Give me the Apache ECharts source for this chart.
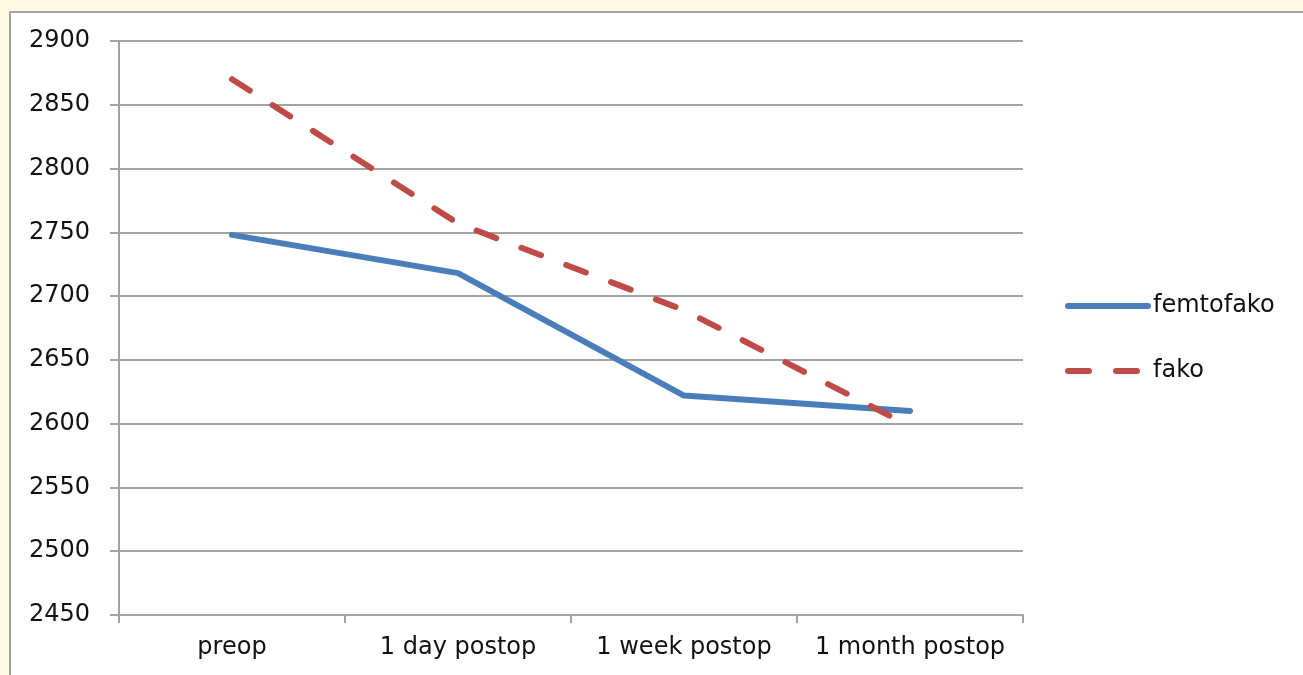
<!DOCTYPE html>
<html>
<head>
<meta charset="utf-8">
<script src="https://cdn.jsdelivr.net/npm/echarts@6/dist/echarts.min.js"></script>
<style>
  html, body { margin: 0; padding: 0; width: 1303px; height: 675px; overflow: hidden; background: #fff9e3; }
  .frame {
    position: absolute; left: 9px; top: 11px; width: 1310px; height: 680px;
    background: #fff; border-left: 2px solid #a3a3a3; border-top: 2px solid #a3a3a3;
  }
  #chart { position: absolute; left: 0; top: 0; width: 1303px; height: 675px; }
</style>
</head>
<body>
<div class="frame"></div>
<div id="chart"></div>
<script>
var categories = ['preop', '1 day postop', '1 week postop', '1 month postop'];
var femtofako = [2748, 2718, 2622, 2610];
var fako = [2870, 2757, 2689, 2598];
var yMin = 2450, yMax = 2900, yStep = 50;

var font = 'DejaVu Sans';
var gray = '#a3a3a3';
var label_size = 24;

var myChart = echarts.init(document.getElementById('chart'));
myChart.setOption({
  animation: false,
  textStyle: { fontFamily: font },
  grid: { left: 119, top: 41, right: 280, bottom: 60 },
  legend: {
    orient: 'vertical',
    left: 1060,
    top: 289,
    itemWidth: 80,
    itemHeight: 14,
    itemGap: 41,
    itemStyle: { opacity: 0 },
    lineStyle: { width: 6, cap: 'round' },
    textStyle: { fontFamily: font, fontSize: label_size, color: '#111', padding: [0, 0, 0, 0] },
    data: ['femtofako', 'fako']
  },
  xAxis: {
    type: 'category',
    data: categories,
    boundaryGap: true,
    axisLine: { lineStyle: { color: gray, width: 2 } },
    axisTick: { show: true, length: 8, lineStyle: { color: gray, width: 2 } },
    axisLabel: { fontSize: label_size, color: '#111', margin: 21, interval: 0 }
  },
  yAxis: {
    type: 'value',
    min: yMin,
    max: yMax,
    interval: yStep,
    axisLine: { show: true, lineStyle: { color: gray, width: 2 } },
    axisTick: { show: true, length: 9, lineStyle: { color: gray, width: 2 } },
    axisLabel: { fontSize: label_size, color: '#111', margin: 29, formatter: function (v) { return String(v); } },
    splitLine: { show: true, lineStyle: { color: gray, width: 2 } }
  },
  series: [
    {
      name: 'femtofako',
      type: 'line',
      data: femtofako,
      symbol: 'none',
      lineStyle: { color: '#4a7ebb', width: 6, cap: 'round', join: 'round' },
      itemStyle: { color: '#4a7ebb' }
    },
    {
      name: 'fako',
      type: 'line',
      data: fako,
      symbol: 'none',
      lineStyle: { color: '#be4b48', width: 6, type: [21, 27], cap: 'round', join: 'round' },
      itemStyle: { color: '#be4b48' }
    }
  ]
});
</script>
</body>
</html>
